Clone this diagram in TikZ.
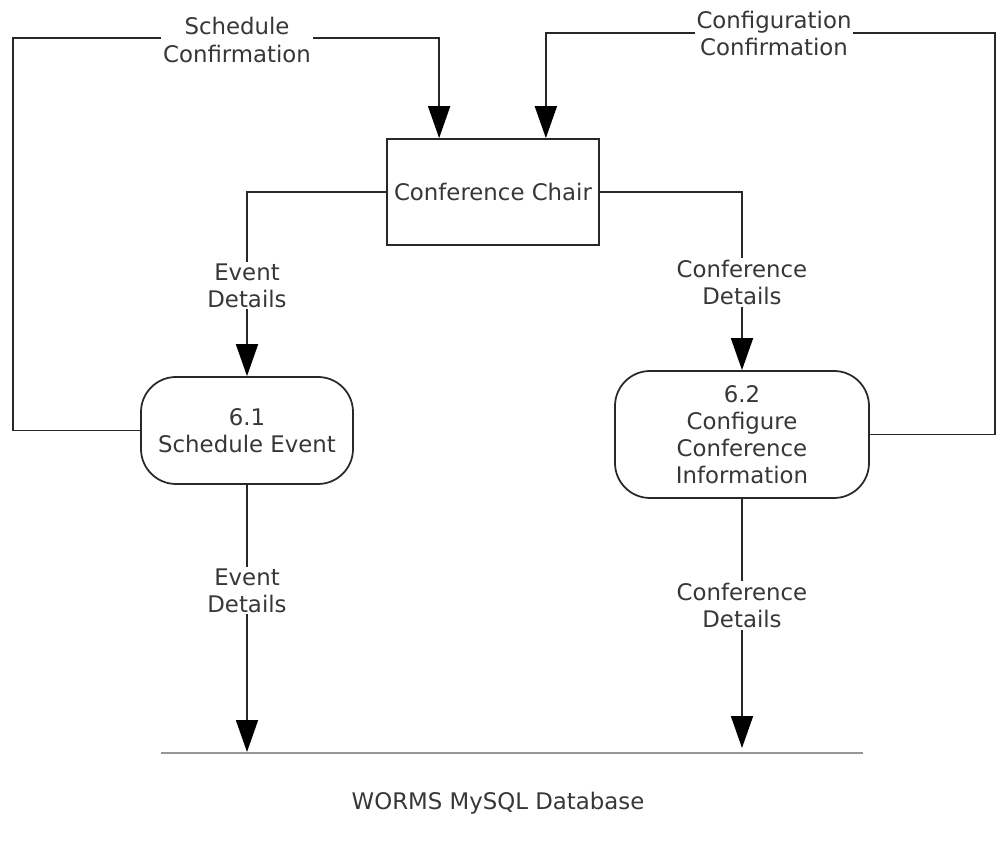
\documentclass[tikz,border=0pt]{standalone}
\usepackage{fontspec}
\setmainfont{DejaVu Sans}
\usetikzlibrary{arrows.meta}
\definecolor{linegray}{RGB}{40,40,40}
\definecolor{dbgray}{RGB}{150,150,150}
\definecolor{textgray}{RGB}{55,55,55}
\tikzset{
  flow/.style={line width=0.035cm, draw=linegray},
  flowarrow/.style={flow, -{Triangle[length=0.64cm,width=0.44cm,black]}},
  entity/.style={draw=linegray, line width=0.035cm, minimum width=4.24cm, minimum height=2.12cm, inner sep=0pt},
  process/.style={draw=linegray, line width=0.035cm, rounded corners=0.7cm, align=center, inner sep=0pt},
  flowlabel/.style={fill=white, align=center, inner sep=1pt, text=textgray}
}
\begin{document}
\begin{tikzpicture}
                    \useasboundingbox (0,0) rectangle (19.94,-17.04);
                    {\fontsize{13}{15.4}\selectfont

                    % Conference Chair
                    \node [entity, text=textgray] (chair) at (9.86,-3.84) { Conference Chair };%

                    % Process 6.1
                    \node [process, minimum width=4.24cm, minimum height=2.14cm, text=textgray] (schedule) at (4.94,-8.61) { 6.1\\Schedule Event };%

                    % Process 6.2
                    \node [process, minimum width=5.08cm, minimum height=2.54cm, text=textgray] (configure) at (14.84,-8.69) { 6.2\\Configure\\Conference\\Information };%

                    % Data store
                    \coordinate (dbwest) at (3.22,-15.06);%
                    \coordinate (dbeast) at (17.26,-15.06);%
                    \draw [line width=0.035cm, dbgray] (dbwest) -- (dbeast);%
                    \node [text=textgray] (dblabel) at (9.96,-16.06) { WORMS MySQL Database };%

                    % Drawing flow Conference Chair -> 6.1
                    \draw [flowarrow] (chair.west) -| (schedule.north);%
                    \node [flowlabel] (eventin) at (4.94,-5.71) { Event\\Details };%

                    % Drawing flow Conference Chair -> 6.2
                    \draw [flowarrow] (chair.east) -| (configure.north);%
                    \node [flowlabel] (confin) at (14.84,-5.65) { Conference\\Details };%

                    % Drawing flow 6.1 -> Conference Chair
                    \coordinate (schedcorner) at (0.26,-0.76);%
                    \draw [flowarrow] (schedule.west) -| (schedcorner) -| ([xshift=1.06cm]chair.north west);%
                    \node [flowlabel] (schedconf) at (4.74,-0.80) { Schedule\\Confirmation };%

                    % Drawing flow 6.2 -> Conference Chair
                    \coordinate (confcorner) at (19.90,-0.66);%
                    \draw [flowarrow] (configure.east) -| (confcorner) -| ([xshift=-1.08cm]chair.north east);%
                    \node [flowlabel] (configconf) at (15.48,-0.67) { Configuration\\Confirmation };%

                    % Drawing flow 6.1 -> data store
                    \coordinate (eventtip) at (4.94,-15.04);%
                    \draw [flowarrow] (schedule.south) -- (eventtip);%
                    \node [flowlabel] (eventout) at (4.94,-11.81) { Event\\Details };%

                    % Drawing flow 6.2 -> data store
                    \coordinate (conftip) at (14.84,-14.96);%
                    \draw [flowarrow] (configure.south) -- (conftip);%
                    \node [flowlabel] (confout) at (14.84,-12.11) { Conference\\Details };%
                    }
\end{tikzpicture}
\end{document}
